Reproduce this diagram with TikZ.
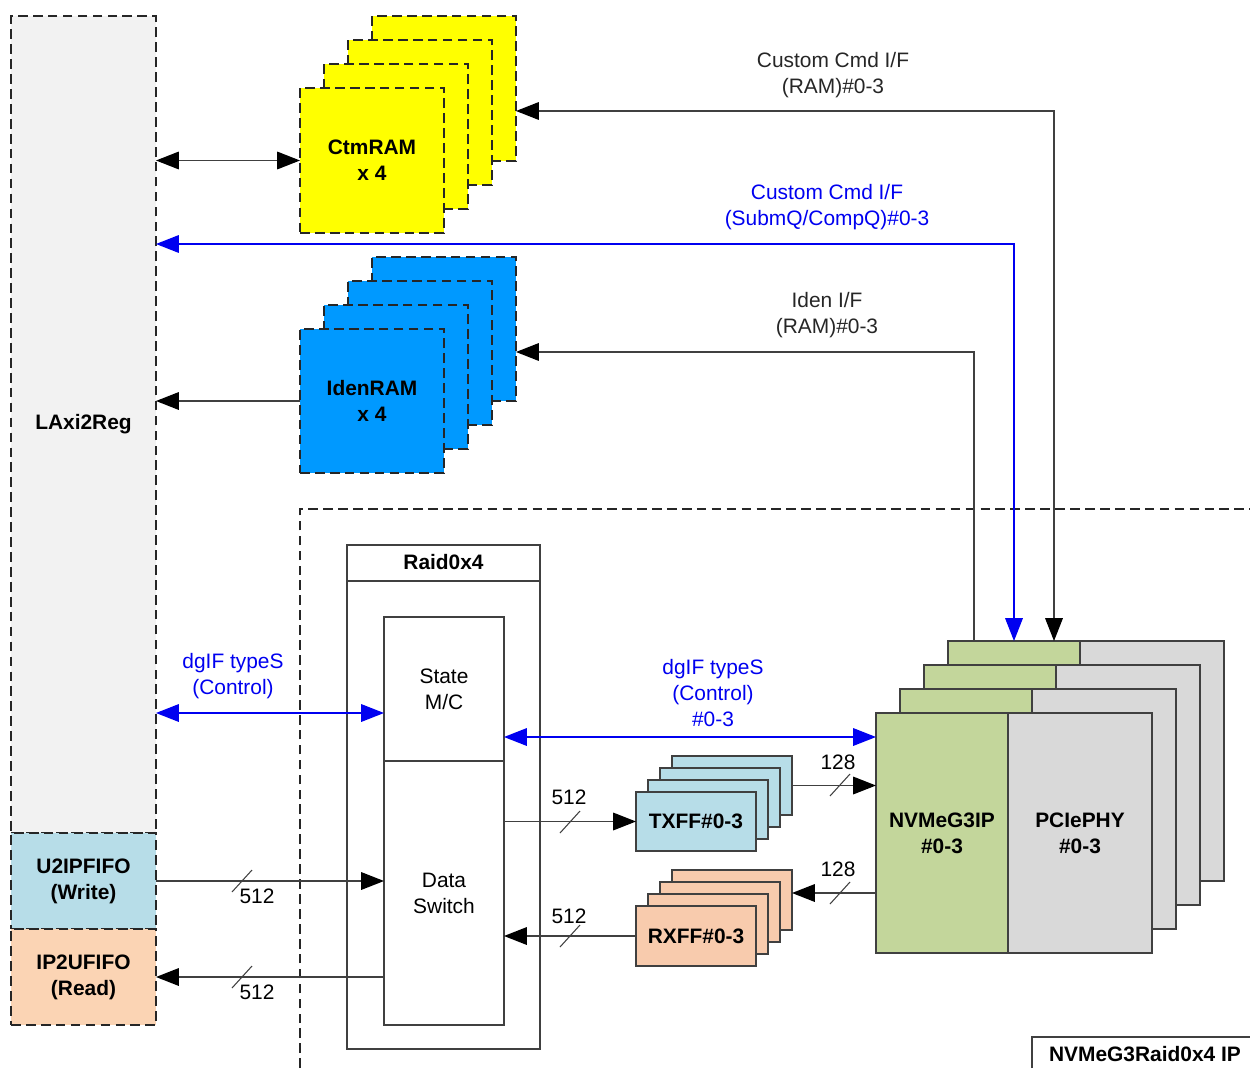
\documentclass[tikz,border=0pt]{standalone}
\usepackage{fontspec}
\setmainfont{Liberation Sans}
\usetikzlibrary{arrows.meta}
\definecolor{laxigray}{HTML}{F2F2F2}
\definecolor{fifoblue}{HTML}{B7DDE8}
\definecolor{fifopeach}{HTML}{FBD4B4}
\definecolor{rxpeach}{HTML}{F8CBAD}
\definecolor{ctmyellow}{HTML}{FFFF00}
\definecolor{idenblue}{HTML}{0099FF}
\definecolor{nvmgreen}{HTML}{C3D69B}
\definecolor{phygray}{HTML}{D9D9D9}
\definecolor{sigblue}{HTML}{0000F0}
\begin{document}
\begin{tikzpicture}[x=0.02cm, y=-0.02cm,
    >={Triangle[length=13pt,width=10pt]},
    font=\fontsize{11.9}{14.7}\selectfont,
    box/.style={draw=black!75, line width=0.8pt, inner sep=0pt, outer sep=0pt, align=center},
    dbox/.style={box, draw=black!85, line width=1.2pt, dash pattern=on 5.5pt off 3pt},
    wire/.style={draw=black!75, line width=0.8pt, >={Triangle[length=13pt,width=10pt,fill=black,color=black]}},
    bluewire/.style={draw=sigblue, line width=0.8pt},
    lbl/.style={align=center, inner sep=0pt}]
        \useasboundingbox (0,0) rectangle (1250,1068);

        % Big IP border
        \draw[black!85, line width=1.2pt, dash pattern=on 5.5pt off 3pt] (300,1068) |- (1250,509);
        \draw[black!75, line width=0.8pt] (1032,1068) |- (1250,1037);
        \node (iplbl) [lbl] at (1145,1054) {\bfseries NVMeG3Raid0x4 IP};

        % LAxi2Reg and FIFOs
        \node (laxi) [dbox, fill=laxigray, minimum width=2.9cm, minimum height=16.34cm] at (83.5,424.5) {\bfseries LAxi2Reg};
        \node (u2ip) [dbox, fill=fifoblue, minimum width=2.9cm, minimum height=1.92cm] at (83.5,881) {\bfseries U2IPFIFO\\\bfseries (Write)};
        \node (ip2u) [dbox, fill=fifopeach, minimum width=2.9cm, minimum height=1.92cm] at (83.5,977) {\bfseries IP2UFIFO\\\bfseries (Read)};

        % RAM stacks
        \foreach \k in {3,2,1} {
            \node (ctm\k) [dbox, fill=ctmyellow, minimum width=2.88cm, minimum height=2.9cm] at ({372+24*\k},{160.5-24*\k}) {};
        }
        \node (ctm0) [dbox, fill=ctmyellow, minimum width=2.88cm, minimum height=2.9cm] at (372,160.5) {\bfseries CtmRAM\\\bfseries x 4};
        \foreach \k in {3,2,1} {
            \node (iden\k) [dbox, fill=idenblue, minimum width=2.88cm, minimum height=2.88cm] at ({372+24*\k},{401-24*\k}) {};
        }
        \node (iden0) [dbox, fill=idenblue, minimum width=2.88cm, minimum height=2.88cm] at (372,401) {\bfseries IdenRAM\\\bfseries x 4};

        % Raid0x4
        \node (raid) [box, minimum width=3.86cm, minimum height=10.08cm] at (443.5,797) {};
        \draw[black!75, line width=0.8pt] (347,581) -- (540,581);
        \node (raidt) [lbl] at (443.5,562) {\bfseries Raid0x4};
        \node (stmc) [box, minimum width=2.4cm, minimum height=2.88cm] at (444,689) {State\\M/C};
        \node (dsw) [box, minimum width=2.4cm, minimum height=5.28cm] at (444,893) {Data\\Switch};

        % TX/RX FIFOs
        \foreach \k in {3,2,1} {
            \node (txff\k) [box, fill=fifoblue, minimum width=2.4cm, minimum height=1.18cm] at ({696+12*\k},{821.5-12*\k}) {};
            \node (rxff\k) [box, fill=rxpeach, minimum width=2.4cm, minimum height=1.2cm] at ({696+12*\k},{936-12*\k}) {};
        }
        \node (txff0) [box, fill=fifoblue, minimum width=2.4cm, minimum height=1.18cm] at (696,821.5) {\bfseries TXFF\#0-3};
        \node (rxff0) [box, fill=rxpeach, minimum width=2.4cm, minimum height=1.2cm] at (696,936) {\bfseries RXFF\#0-3};

        % NVMe IP and PHY stack
        \foreach \k in {3,2,1} {
            \node (phy\k) [box, fill=phygray, minimum width=2.88cm, minimum height=4.8cm] at ({1080+24*\k},{833-24*\k}) {};
            \node (nvm\k) [box, fill=nvmgreen, minimum width=2.64cm, minimum height=4.8cm] at ({942+24*\k},{833-24*\k}) {};
        }
        \node (phy0) [box, fill=phygray, minimum width=2.88cm, minimum height=4.8cm] at (1080,833) {\bfseries PCIePHY\\\bfseries \#0-3};
        \node (nvm0) [box, fill=nvmgreen, minimum width=2.64cm, minimum height=4.8cm] at (942,833) {\bfseries NVMeG3IP\\\bfseries \#0-3};

        % Labels
        \node (cmdlbl) [lbl, text=black!85] at (833,75) {Custom Cmd I/F\\(RAM)\#0-3};
        \node (sqlbl) [lbl, text=sigblue] at (827,207) {Custom Cmd I/F\\(SubmQ/CompQ)\#0-3};
        \node (idlbl) [lbl, text=black!85] at (827,315) {Iden I/F\\(RAM)\#0-3};
        \node (dglbl) [lbl, text=sigblue] at (233,676) {dgIF typeS\\(Control)};
        \node (dg4lbl) [lbl, text=sigblue] at (713,693) {dgIF typeS\\(Control)\\\#0-3};

        % Edges
        \draw[wire, <->] (laxi.east |- ctm0.west) -- (ctm0.west);
        \draw[wire, ->] (iden0.west) -- (laxi.east |- iden0.west);
        \draw[wire, <->] (ctm3.east |- 0,111) -| (nvm3.north -| 1054,0);
        \draw[wire, <-] (iden3.east |- 0,352) -| (nvm3.north -| 974,0);
        \draw[bluewire, <->] (laxi.east |- 0,244) -| (nvm3.north);
        \draw[bluewire, <->] (laxi.east |- 0,713) -- (stmc.west |- 0,713);
        \draw[bluewire, <->] (stmc.east |- 0,737) -- (nvm0.west |- 0,737);
        \draw[wire, ->] (u2ip.east) -- (dsw.west |- u2ip.east);
        \draw[wire, ->] (dsw.west |- ip2u.east) -- (ip2u.east);
        \draw[wire, ->] (dsw.east |- txff0.west) -- (txff0.west);
        \draw[wire, ->] (txff3.east) -- (nvm0.west |- txff3.east);
        \draw[wire, ->] (nvm0.west |- 0,893) -- (rxff3.east |- 0,893);
        \draw[wire, ->] (rxff0.west) -- (dsw.east |- rxff0.west);

        % Bus widths
        \foreach \x/\y in {570/822, 840/785, 840/893, 570/936, 242/881, 242/977} {
            \draw[black!75, line width=0.6pt] (\x-10,\y+11) -- (\x+10,\y-11);
        }
        \node (w1) [lbl] at (569,797) {512};
        \node (w2) [lbl] at (838,762) {128};
        \node (w3) [lbl] at (838,869) {128};
        \node (w4) [lbl] at (569,916) {512};
        \node (w5) [lbl] at (257,896) {512};
        \node (w6) [lbl] at (257,992) {512};

    \end{tikzpicture}
\end{document}
